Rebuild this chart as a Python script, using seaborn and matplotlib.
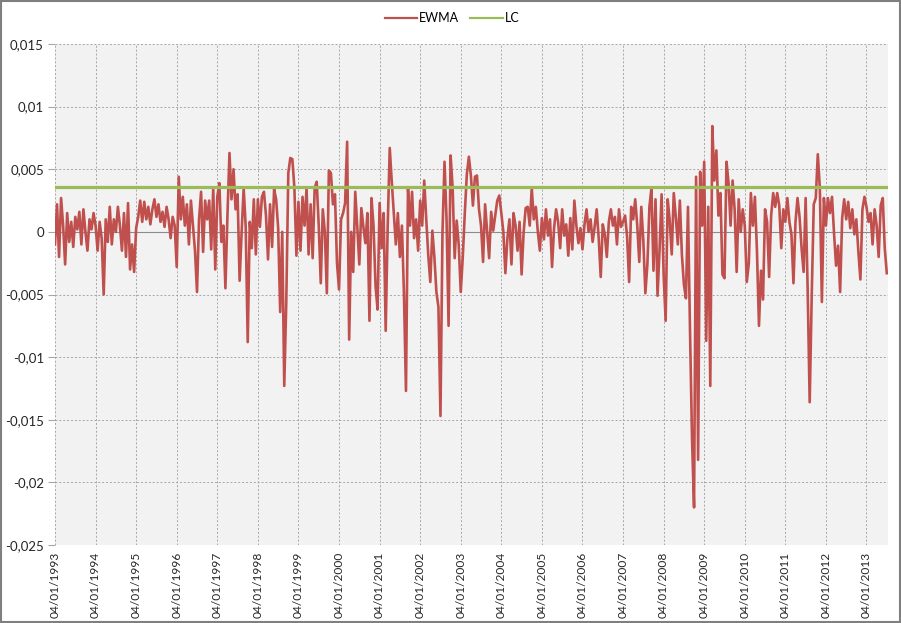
import numpy as np
import pandas as pd
import matplotlib
matplotlib.use("Agg")
import matplotlib.pyplot as plt
import seaborn as sns
from matplotlib.ticker import FuncFormatter
from matplotlib.patches import Rectangle
from matplotlib.lines import Line2D

# EWMA values (in thousandths), 20 readings per year
ewma_1993 = [-1.0, 2.2, -2.0, 2.7, 0.5, -2.6, 1.5, -0.8, 0.8, -1.2, 1.2, 0.2, 1.6, -1.0, 1.8, 0.0, -1.5, 1.0, 0.2, 1.5]
ewma_1994 = [0.5, -1.5, 0.8, -0.5, -5.0, 1.0, -0.8, 2.0, -1.0, 1.0, 0.0, 2.0, 0.5, -1.5, 1.5, -2.0, 2.3, -3.0, -1.0, -3.2]
ewma_1995 = [0.3, 1.2, 2.5, 0.8, 2.4, 1.0, 2.0, 0.6, 1.8, 2.6, 1.2, 2.2, 0.8, 1.6, 0.4, 2.0, 1.0, -0.5, 1.2, 0.5]
ewma_1996 = [-2.8, 4.4, 1.0, 2.8, 0.5, 2.2, -1.0, 2.5, 0.5, -1.5, -4.8, 1.0, 3.2, -1.6, 2.5, 1.0, 2.5, -1.4, 3.5, -3.0]
ewma_1997 = [2.8, 3.9, -0.8, 0.5, -4.5, 1.3, 6.3, 2.6, 5.0, 1.8, 3.0, -3.9, 0.0, 3.5, 0.4, -8.8, 0.8, -1.3, 2.6, -1.8]
ewma_1998 = [2.6, 0.4, 2.8, 3.2, 1.3, -2.2, 2.2, -1.2, 3.4, 2.6, 0.3, -6.4, 0.0, -12.3, -5.6, 4.7, 5.9, 5.8, 3.5, -1.9]
ewma_1999 = [2.4, -1.5, 2.8, 0.5, 3.5, -1.8, 2.2, -2.1, 3.5, 4.0, 0.5, -4.1, 1.8, 0.0, -4.9, 4.9, 4.7, 2.2, 3.0, -2.5]
ewma_2000 = [-4.6, 1.0, 1.5, 2.3, 7.2, -8.6, 0.0, -3.2, 3.2, 0.4, -2.6, 1.9, 0.4, -0.9, 1.5, -7.1, 2.7, 0.5, -4.3, -6.2]
ewma_2001 = [2.3, -1.3, 1.5, -7.9, 0.5, 6.7, 4.0, 1.5, -1.0, 1.5, -2.0, 0.5, -4.9, -12.7, 3.5, 0.5, 3.2, -0.5, 1.0, -1.5]
ewma_2002 = [2.5, 0.5, 4.1, 1.0, -1.9, -4.0, 0.1, -2.0, -4.8, -6.0, -14.7, 0.0, 5.6, 1.0, -7.5, 6.1, 3.5, -2.1, 0.9, -1.0]
ewma_2003 = [-4.8, -2.0, 1.5, 4.6, 6.0, 4.5, 2.1, 4.4, 4.5, 1.8, 0.5, -2.4, 2.2, 0.0, -2.1, 1.6, 0.1, 1.3, 2.5, 2.9]
ewma_2004 = [1.5, 0.0, -3.3, -0.5, 1.0, -2.6, 1.5, 0.5, -1.5, 0.8, -3.4, 0.0, 1.9, 2.0, 0.5, 3.5, 1.0, 2.0, 0.0, -1.5]
ewma_2005 = [1.1, -0.6, 1.8, -0.3, 1.0, -2.8, 0.3, 1.8, 0.8, -1.3, 1.8, -0.3, 0.6, -1.9, 1.1, -1.4, 2.5, 0.5, -0.9, 0.3]
ewma_2006 = [-1.4, 0.6, 1.8, 0.0, 1.0, -0.8, 0.4, 1.8, -0.5, -3.6, 0.6, -0.2, -2.0, 0.8, 1.8, 0.5, 1.2, -1.0, 1.8, 0.4]
ewma_2007 = [0.8, 1.3, -0.4, -4.0, 2.0, 1.0, 2.6, 0.5, -2.4, 2.0, -0.7, -4.9, -2.6, 2.0, 3.5, -3.1, 2.6, -5.1, -1.4, 3.0]
ewma_2008 = [-3.4, -7.1, 2.6, 0.9, -1.8, 3.1, 1.2, -1.0, 2.5, -1.8, -4.2, -5.3, 2.0, -7.8, -16.5, -22.0, 4.4, -18.2, 4.8, 0.5]
ewma_2009 = [5.6, -8.7, 2.0, -12.3, 8.45, 4.1, 6.5, 1.3, 3.1, -3.4, -3.7, 5.6, 3.9, 0.5, 4.1, 1.8, -3.2, 2.6, 0.0, 1.8]
ewma_2010 = [0.5, -4.0, -2.5, 3.1, 0.5, 2.8, -1.5, -7.5, -3.1, -5.4, 1.8, 0.8, -3.6, 1.3, 3.1, 2.0, 3.1, 2.1, -1.3, 1.8]
ewma_2011 = [0.8, 2.7, 0.8, -0.2, -4.1, 0.8, 2.7, 1.2, -1.3, -3.2, 2.7, -4.6, -13.6, -5.1, 2.2, 2.7, 6.2, 3.5, -5.6, 2.7]
ewma_2012 = [0.5, 2.7, 1.5, 2.8, -0.1, -2.7, -1.1, -4.8, 1.1, 2.6, 1.0, 2.4, 0.3, 1.8, -0.2, 1.0, -1.6, -3.8, 1.8, 2.8]
ewma_2013 = [2.0, 0.8, 1.5, -1.0, 1.8, 0.5, -2.0, 2.1, 2.7, -1.3, -3.3]

years = list(range(1993, 2014))
year_series = [ewma_1993, ewma_1994, ewma_1995, ewma_1996, ewma_1997, ewma_1998,
               ewma_1999, ewma_2000, ewma_2001, ewma_2002, ewma_2003, ewma_2004,
               ewma_2005, ewma_2006, ewma_2007, ewma_2008, ewma_2009, ewma_2010,
               ewma_2011, ewma_2012, ewma_2013]
lc_value = 0.0036
tick_labels = ["04/01/1993", "04/01/1994", "04/01/1995", "04/01/1996", "04/01/1997",
               "04/01/1998", "04/01/1999", "04/01/2000", "04/01/2001", "04/01/2002",
               "04/01/2003", "04/01/2004", "04/01/2005", "04/01/2006", "04/01/2007",
               "04/01/2008", "04/01/2009", "04/01/2010", "04/01/2011", "04/01/2012",
               "04/01/2013"]
y_ticks = [-0.025, -0.02, -0.015, -0.01, -0.005, 0.0, 0.005, 0.01, 0.015]

EWMA_COLOR = "#C0504D"
LC_COLOR = "#9BBB59"

per_year = 20
t, vals = [], []
for yr, series in zip(years, year_series):
    for j, v in enumerate(series):
        t.append(yr + j / per_year)
        vals.append(v / 1000.0)
df = pd.DataFrame({"t": t, "EWMA": vals})
df["LC"] = lc_value

plt.rcParams["font.family"] = ["Lato", "DejaVu Sans"]

fig = plt.figure(figsize=(9.01, 6.23), dpi=100)
fig.patch.set_facecolor("white")
ax = fig.add_axes([55 / 901, 78 / 623, 833 / 901, 501 / 623])
ax.set_facecolor("#F2F2F2")

sns.lineplot(data=df, x="t", y="EWMA", color=EWMA_COLOR, lw=1.9, ax=ax,
             legend=False, zorder=3)
sns.lineplot(data=df, x="t", y="LC", color=LC_COLOR, lw=2.3, ax=ax,
             legend=False, zorder=4)

ax.set_xlim(1993, t[-1] + 0.03)
ax.set_ylim(-0.025, 0.015)
ax.set_yticks(y_ticks)
ax.set_xticks(years)
ax.set_xticklabels(tick_labels, rotation=90, fontsize=8.6, color="#262626")


def fmt(v, pos):
    s = f"{round(v, 4):g}"
    if s in ("-0", "0.0"):
        s = "0"
    return s.replace(".", ",")


ax.yaxis.set_major_formatter(FuncFormatter(fmt))
ax.tick_params(axis="y", labelsize=9.5, labelcolor="#262626", length=5,
               color="#A6A6A6", pad=3)
ax.tick_params(axis="x", length=0, pad=5)
ax.grid(True, linestyle=(0, (2, 2)), color="#A6A6A6", lw=0.7)
ax.set_axisbelow(True)
ax.axhline(0, color="#8C8C8C", lw=0.8, zorder=2)
for s in ax.spines.values():
    s.set_visible(False)
ax.set_xlabel("")
ax.set_ylabel("")

handles = [Line2D([], [], color=EWMA_COLOR, lw=1.6),
           Line2D([], [], color=LC_COLOR, lw=1.6)]
fig.legend(handles, ["EWMA", "LC"], loc="center",
           bbox_to_anchor=(452 / 901, 1 - 18 / 623),
           ncol=2, frameon=False, fontsize=9, handlelength=2.6,
           handletextpad=0.15, columnspacing=0.9)

fig.patches.append(Rectangle((0.001, 0.001), 0.998, 0.998, transform=fig.transFigure,
                             fill=False, edgecolor="#7F7F7F", lw=1.5))

fig.savefig("out.png", dpi=100)
